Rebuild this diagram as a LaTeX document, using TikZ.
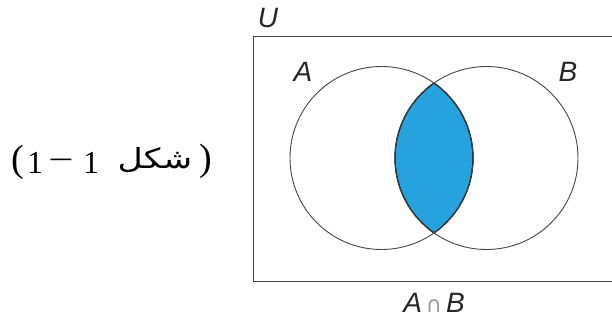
\documentclass[tikz,border=0pt]{standalone}
\usepackage{fontspec}
\usepackage{graphicx}
\setmainfont{Liberation Serif}
\newfontfamily\lsans{Liberation Sans}
\newfontfamily\djv{DejaVu Sans}
\newfontfamily\arabicfont[Script=Arabic]{DejaVu Sans}
\TeXXeTstate=1
\definecolor{lensblue}{RGB}{38,163,222}
\definecolor{lineg}{RGB}{70,70,70}
\tikzset{
  setline/.style={draw=lineg, line width=0.9pt},
  setlabel/.style={font=\lsans\itshape\fontsize{28}{32}\selectfont, text=black!85, inner sep=0pt},
  figtext/.style={font=\fontsize{32}{36}\selectfont, inner sep=0pt},
  paren/.style={font=\fontsize{38}{42}\selectfont, inner sep=0pt},
}
\begin{document}
\begin{tikzpicture}[x=1pt,y=-1pt]
\useasboundingbox (0,0) rectangle (612,321);
\coordinate (cA) at (381.5,158);
\coordinate (cB) at (486.5,158);
% universe rectangle
\draw[setline] (253,36) rectangle (616,281);
% lens
\begin{scope}
  \clip (cA) circle (91.5);
  \fill[lensblue] (cB) circle (91.5);
  \draw[black, line width=1.3pt] (cB) circle (91.5);
\end{scope}
\begin{scope}
  \clip (cB) circle (91.5);
  \draw[black, line width=1.3pt] (cA) circle (91.5);
\end{scope}
\draw[setline] (cA) circle (91.5);
\draw[setline] (cB) circle (91.5);
% labels
\node[setlabel] (U) at (268,18) {U};
\node[setlabel] (lA) at (303,72) {A};
\node[setlabel] (lB) at (568,72) {B};
\node[setlabel] (AB) at (434,303) {A\hspace{4pt}{\upshape\djv\fontsize{22}{26}\selectfont\color{black!40}∩}\hspace{4pt}B};
% figure caption
\node[paren] (lp) at (18,162) {(};
\node[figtext] (one1) at (35,163) {1};
\node[figtext] (minus) at (61,165) {\scalebox{1.4}[1]{−}};
\node[figtext] (one2) at (91,163) {1};
\node[inner sep=0pt] (word) at (155,160) {\scalebox{1.45}[1.15]{\arabicfont\fontsize{24}{28}\selectfont\beginR شكل\endR}};
\node[paren] (rp) at (206,161) {)};
\end{tikzpicture}
\end{document}
